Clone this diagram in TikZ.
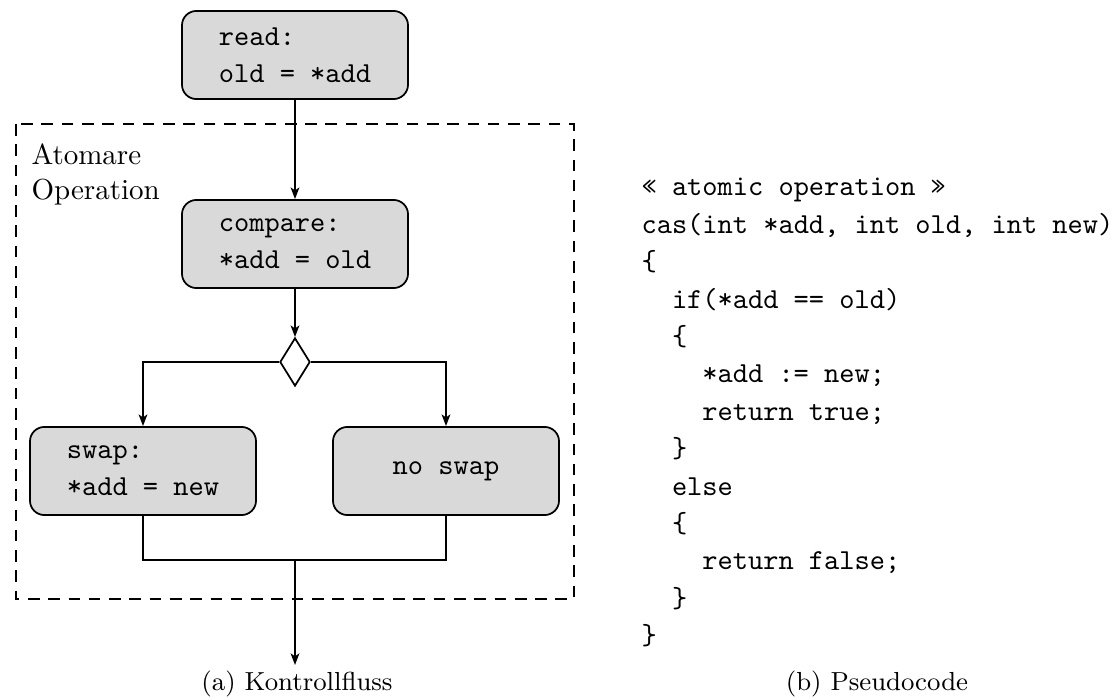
\documentclass[tikz,border=0pt]{standalone}
\usetikzlibrary{shapes.geometric,arrows.meta}
\definecolor{boxgray}{gray}{0.85}
\newcommand\codefont{\ttfamily\fontsize{10}{12.9}\selectfont}
\tikzset{
  stepbox/.style={draw, line width=0.6pt, rounded corners=5pt, fill=boxgray,
    minimum width=78pt, minimum height=30.4pt, font=\codefont,
    inner xsep=4pt, align=left},
  centerbox/.style={stepbox, align=center},
  decision/.style={draw, line width=0.6pt, diamond, inner sep=0pt,
    minimum width=10.4pt, minimum height=16.6pt},
  flow/.style={line width=0.6pt, -{Stealth[length=4pt,width=3pt,inset=1pt]}},
  plainline/.style={line width=0.6pt},
  groupbox/.style={draw, line width=0.6pt, dash pattern=on 4pt off 3pt},
  caption/.style={font=\small, anchor=base, inner sep=0pt},
}
\begin{document}
\begin{tikzpicture}[x=0.345pt,y=-0.345pt]
\useasboundingbox (0,0) rectangle (1117,698);
% group box
\draw[groupbox] (16,124) rectangle (574,599);
\node[anchor=base west, inner sep=0pt] (atomlabel) at (31,165)
  {\vtop{\baselineskip=12pt \hbox{Atomare}\hbox{Operation}}};
% nodes
\node[stepbox] (read) at (295,55) {read:\\old = *add};
\node[stepbox] (compare) at (295,244) {compare:\\{}*add = old};
\node[decision] (dec) at (295,362) {};
\node[stepbox] (swap) at (143,471) {swap:\\{}*add = new};
\node[centerbox] (noswap) at (446,471) {no swap};
\coordinate (join) at (295,560);
\coordinate (out) at (295,665);
% connectors
\draw[flow] (read.south) -- (compare.north);
\draw[flow] (compare.south) -- (dec.north);
\draw[flow] (dec.west) -| (swap.north);
\draw[flow] (dec.east) -| (noswap.north);
\draw[plainline] (swap.south) |- (join) -| (noswap.south);
\draw[flow] (join) -- (out);
% code
\node[anchor=base west, inner sep=0pt] (code) at (641,196) {\codefont\vtop{\baselineskip=12.9pt
  \hbox{« atomic operation »}
  \hbox{cas(int *add, int old, int new)}
  \hbox{\{}
  \hbox{\hphantom{xx}if(*add == old)}
  \hbox{\hphantom{xx}\{}
  \hbox{\hphantom{xxxx}*add := new;}
  \hbox{\hphantom{xxxx}return true;}
  \hbox{\hphantom{xx}\}}
  \hbox{\hphantom{xx}else}
  \hbox{\hphantom{xx}\{}
  \hbox{\hphantom{xxxx}return false;}
  \hbox{\hphantom{xx}\}}
  \hbox{\}}}};
% captions
\node[caption] (capa) at (297,690) {(a) Kontrollfluss};
\node[caption] (capb) at (877,690) {(b) Pseudocode};
\end{tikzpicture}
\end{document}
